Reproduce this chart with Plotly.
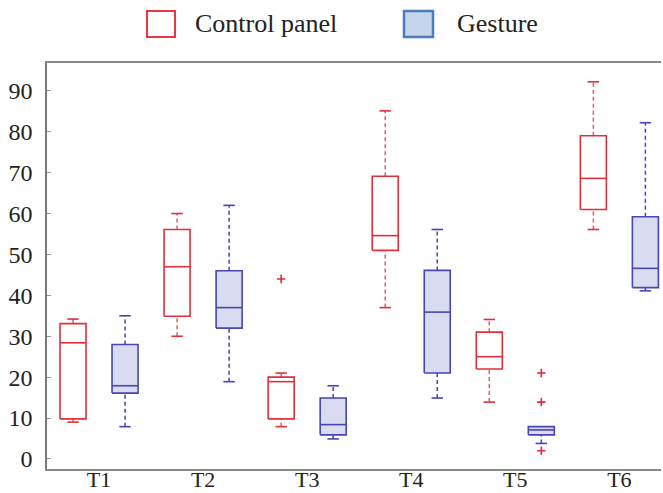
import plotly.graph_objects as go

categories = ["T1", "T2", "T3", "T4", "T5", "T6"]

ctrl_lower = [9.0, 30.0, 7.9, 37.0, 13.9, 56.1]
ctrl_q1 = [9.8, 34.9, 9.8, 51.0, 22.0, 61.0]
ctrl_median = [28.4, 47.0, 18.9, 54.6, 25.0, 68.6]
ctrl_q3 = [33.1, 56.1, 20.0, 69.1, 31.0, 79.0]
ctrl_upper = [34.2, 60.0, 21.0, 85.1, 34.1, 92.2]
ctrl_outliers = [[], [], [44.0], [], [], []]

gest_lower = [7.9, 18.9, 4.9, 14.9, 3.8, 41.1]
gest_q1 = [16.1, 32.0, 5.9, 21.0, 5.9, 41.9]
gest_median = [17.9, 37.0, 8.4, 35.9, 7.1, 46.6]
gest_q3 = [28.0, 46.0, 14.9, 46.1, 7.9, 59.2]
gest_upper = [35.0, 62.0, 17.9, 56.1, 7.9, 82.2]
gest_outliers = [[], [], [], [], [21.0, 13.9, 2.0], []]

y_ticks = [0, 10, 20, 30, 40, 50, 60, 70, 80, 90]

RED = "#e0303a"
RED_DASH = "#e0606c"
BLUE = "#4646b4"
BLUE_FILL = "#d9dbf1"
OUT_RED = "#e02a35"

BOX_HW = 0.125
CAP_HW = 0.055
OFFSET = 0.25

fig = go.Figure()


def add_series(lower, q1, med, q3, upper, outliers, off, line_col, dash_col, fill_col):
    bx, by, mx, my, wx, wy, cx, cy, ox, oy = [], [], [], [], [], [], [], [], [], []
    for i in range(len(categories)):
        p = i + 1 + off
        x0, x1 = p - BOX_HW, p + BOX_HW
        bx += [x0, x1, x1, x0, x0, None]
        by += [q1[i], q1[i], q3[i], q3[i], q1[i], None]
        mx += [x0, x1, None]
        my += [med[i], med[i], None]
        if upper[i] > q3[i]:
            wx += [p, p, None]
            wy += [q3[i], upper[i], None]
            cx += [p - CAP_HW, p + CAP_HW, None]
            cy += [upper[i], upper[i], None]
        if lower[i] < q1[i]:
            wx += [p, p, None]
            wy += [lower[i], q1[i], None]
            cx += [p - CAP_HW, p + CAP_HW, None]
            cy += [lower[i], lower[i], None]
        for v in outliers[i]:
            ox.append(p)
            oy.append(v)
    fig.add_trace(go.Scatter(x=wx, y=wy, mode="lines", showlegend=False, hoverinfo="skip",
                             line=dict(color=dash_col, width=1.5, dash="4px,3px")))
    fig.add_trace(go.Scatter(x=bx, y=by, mode="lines", fill="toself" if fill_col else None,
                             fillcolor=fill_col, showlegend=False,
                             line=dict(color=line_col, width=1.6)))
    fig.add_trace(go.Scatter(x=mx, y=my, mode="lines", showlegend=False, hoverinfo="skip",
                             line=dict(color=line_col, width=1.6)))
    fig.add_trace(go.Scatter(x=cx, y=cy, mode="lines", showlegend=False, hoverinfo="skip",
                             line=dict(color=line_col, width=1.6)))
    if ox:
        fig.add_trace(go.Scatter(x=ox, y=oy, mode="markers", showlegend=False,
                                 marker=dict(symbol="cross-thin-open", size=6, color=OUT_RED,
                                             line=dict(color=OUT_RED, width=1.6))))


add_series(ctrl_lower, ctrl_q1, ctrl_median, ctrl_q3, ctrl_upper, ctrl_outliers,
           -OFFSET, RED, RED_DASH, None)
add_series(gest_lower, gest_q1, gest_median, gest_q3, gest_upper, gest_outliers,
           OFFSET, BLUE, BLUE, BLUE_FILL)

# manual legend
L, T, W, H = 47, 63, 614, 406


def px(xp):
    return (xp - L) / W


def py(yp):
    return (T + H - yp) / H


shapes = [
    dict(type="rect", xref="paper", yref="paper", x0=px(147), x1=px(175), y0=py(37), y1=py(11),
         line=dict(color="#e8383d", width=2), fillcolor="white", layer="above"),
    dict(type="rect", xref="paper", yref="paper", x0=px(404), x1=px(433), y0=py(37), y1=py(11),
         line=dict(color="#4a7ebb", width=2.5), fillcolor="#c6d4ec", layer="above"),
]
annotations = [
    dict(text="Control panel", xref="paper", yref="paper", x=px(193), y=py(24),
         xanchor="left", yanchor="middle", showarrow=False,
         font=dict(family="Liberation Serif", size=26, color="#222")),
    dict(text="Gesture", xref="paper", yref="paper", x=px(455), y=py(24),
         xanchor="left", yanchor="middle", showarrow=False,
         font=dict(family="Liberation Serif", size=26, color="#222")),
]

fig.update_layout(
    width=663, height=493,
    margin=dict(l=L, r=663 - L - W, t=T, b=493 - T - H, autoexpand=False),
    paper_bgcolor="white", plot_bgcolor="white",
    showlegend=False,
    shapes=shapes, annotations=annotations,
    font=dict(family="Liberation Serif", size=24, color="#222"),
)
fig.update_xaxes(
    range=[0.5, 6.4], tickvals=[1, 2, 3, 4, 5, 6], ticktext=categories,
    showgrid=False, zeroline=False, showline=True, linecolor="#888", linewidth=1.5,
    mirror=True, ticks="", ticklabelstandoff=-10, automargin=False,
    tickfont=dict(family="Liberation Serif", size=22, color="#222"),
)
fig.update_yaxes(
    range=[-2.45, 96.8], tickvals=y_ticks, ticktext=[str(v) for v in y_ticks],
    showgrid=False, zeroline=False, showline=True, linecolor="#777", linewidth=1.5,
    ticks="inside", ticklen=4, tickcolor="#999", ticklabelstandoff=8, automargin=False,
    tickfont=dict(family="Liberation Serif", size=24, color="#222"),
)

fig.write_html(
    "out.html",
    config={"displayModeBar": False},
    post_script="document.body.style.margin='0';document.body.style.overflow='hidden';",
)
